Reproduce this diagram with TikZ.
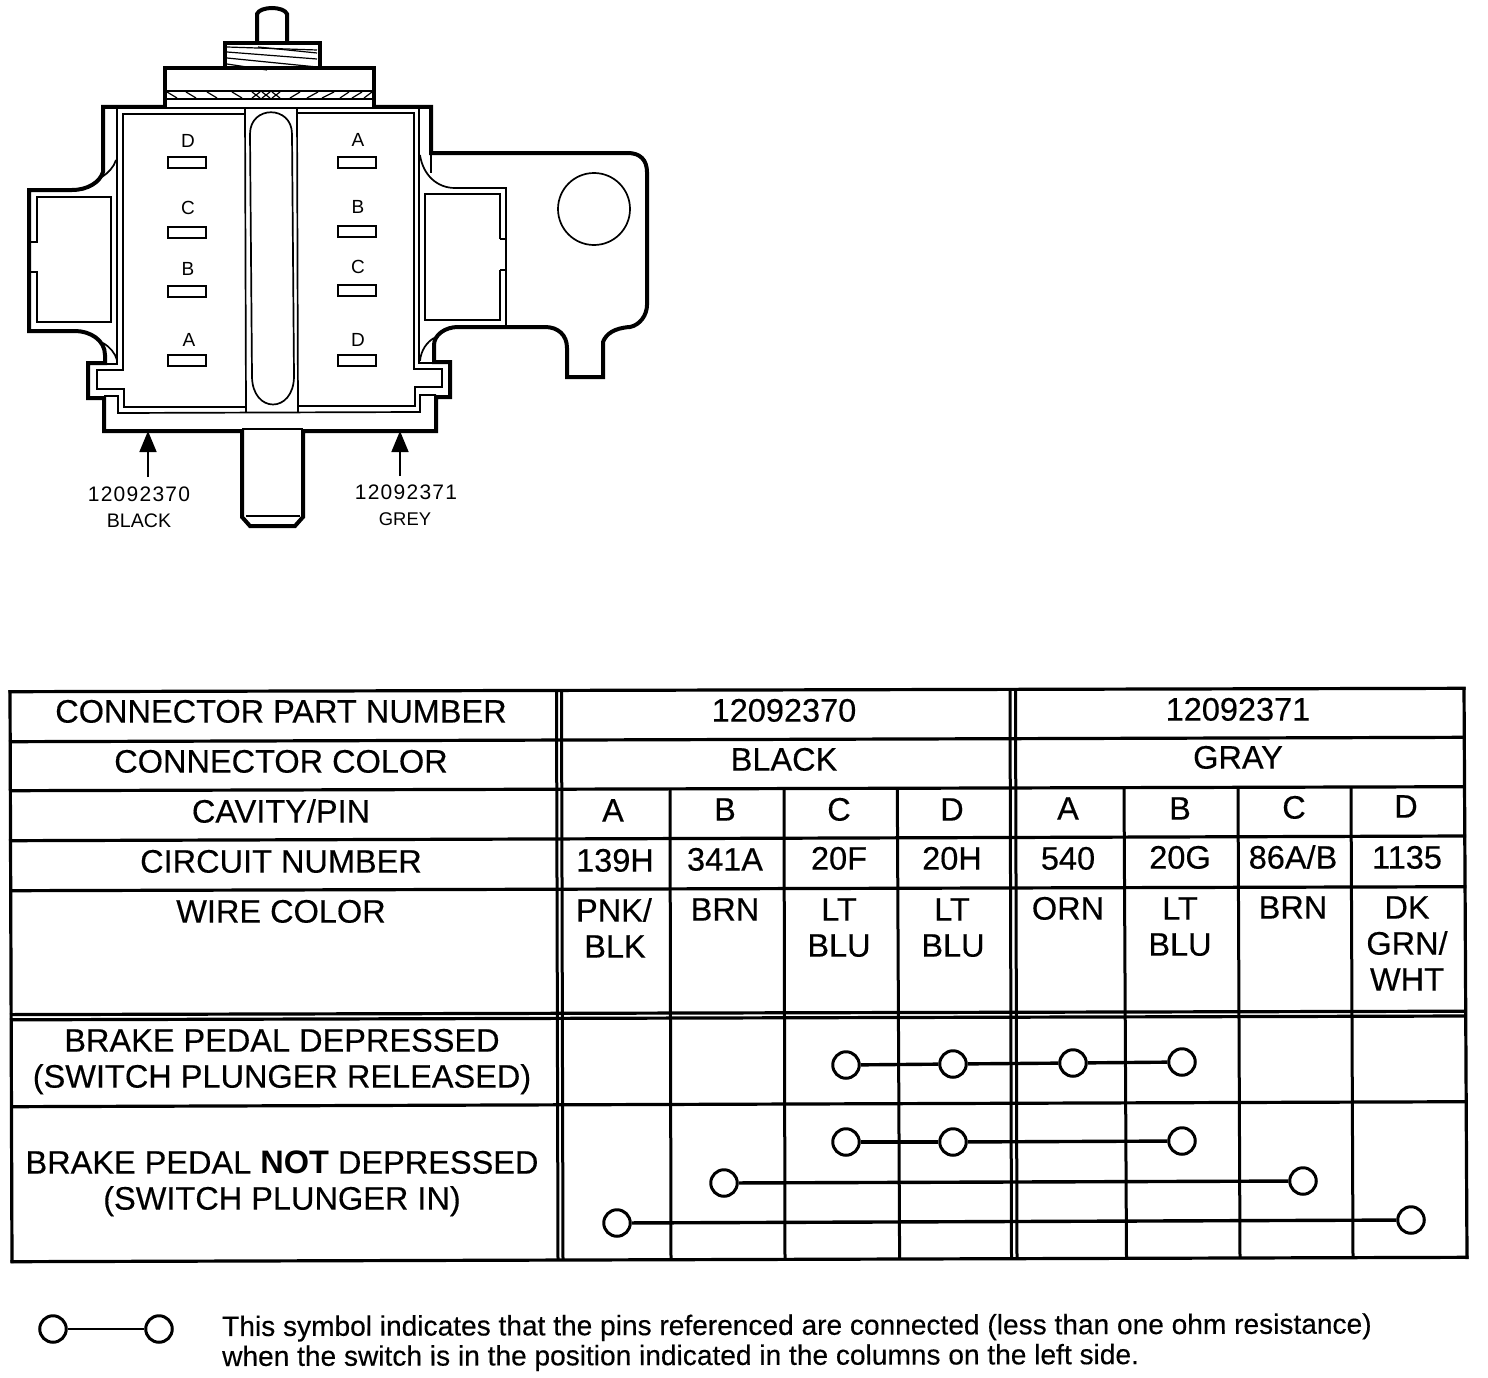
\documentclass[tikz,border=0pt]{standalone}
\usepackage{fontspec}
\setmainfont{Liberation Sans}
\newfontfamily\heavy[FakeBold=0.35]{Liberation Sans}
\newfontfamily\widedigits[LetterSpace=6]{Liberation Sans}
\usetikzlibrary{arrows.meta}
\tikzset{
  x=1pt,y=-1pt,
  thickln/.style={line width=4pt,line join=miter,line cap=butt},
  thinln/.style={line width=1.7pt,line join=miter},
  hair/.style={line width=1.2pt},
  gridln/.style={line width=3.2pt},
  colln/.style={line width=3pt},
  cell/.style={inner sep=0pt,anchor=base,font=\fontsize{32.5}{36}\selectfont\heavy},
  small/.style={inner sep=0pt,anchor=base,font=\fontsize{19}{22}\selectfont},
  partlabel/.style={inner sep=0pt,anchor=base,font=\fontsize{21}{24}\selectfont\widedigits},
  colourlabel/.style={inner sep=0pt,anchor=base,font=\fontsize{19.6}{24}\selectfont},
  greylabel/.style={inner sep=0pt,anchor=base,font=\fontsize{18.4}{24}\selectfont},
  legendtxt/.style={inner sep=0pt,anchor=base west,rotate=0.12,font=\fontsize{28.1}{32}\selectfont\heavy},
  pin/.style={circle,draw,fill=white,line width=3pt,minimum size=26.5pt,inner sep=0pt},
  link/.style={line width=3.4pt},
  pinbox/.style={draw,line width=2pt},
}
\newcommand\tcell[4]{\node[cell] (#1) at (#2,#3+11.6) {#4};}
\newcommand\pinlabel[4]{\node[small] (#1) at (#2,#3+6.8) {#4};}
\begin{document}
\begin{tikzpicture}
\useasboundingbox (0,0) rectangle (1488,1378);
\fill[white] (0,0) rectangle (1488,1378);

% --- switch: plunger top and threaded block
\draw[thickln] (257,41) -- (257,14) .. controls (260,6) and (284,6) .. (287,14) -- (287,41);
\draw[thickln] (225,68) -- (225,43) -- (320,43) -- (320,68);
\foreach \a/\b/\c/\d in {227/47/317/50, 227/52/317/59, 227/58/317/67, 227/64/267/70, 258/47/317/53}
  \draw[hair] (\a,\b) -- (\c,\d);
% cap
\draw[thickln] (165,107) -- (165,68) -- (374,68) -- (374,107);
\draw[thinln] (165,91) -- (374,91);
\draw[thinln] (165,99) -- (374,99);
\foreach \a/\b in {167/177,186/196,207/217,232/242,252/260,262/270,272/280}
  \draw[hair] (\a,92) -- (\b,98);
\foreach \a/\b in {260/252,270/262,280/272,300/290,318/307,334/322,349/340,362/352,372/364}
  \draw[hair] (\a,92) -- (\b,98);
\draw[thinln] (163,108) -- (376,108);

% --- body outline
\draw[thickln] (163,107) -- (103,107) -- (103,172)
  .. controls (100,182) and (88,190) .. (72,190) -- (29,190) -- (29,331) -- (75,331)
  .. controls (90,331) and (105,340) .. (105,355) -- (105,363) -- (88,363) -- (88,398)
  -- (104,398) -- (104,431) -- (242,431) -- (242,517) -- (250,526) -- (295,526)
  -- (303,517) -- (303,431) -- (436,431) -- (436,397) -- (450,397) -- (450,362)
  -- (434,362) -- (434,345) .. controls (434,335) and (445,327) .. (458,327) -- (545,327)
  .. controls (558,327) and (567,335) .. (567,348) -- (567,377) -- (603,377) -- (603,342)
  .. controls (606,334) and (614,328) .. (630,327) .. controls (640,325) and (647,315) .. (647,305)
  -- (647,172) .. controls (647,160) and (640,153) .. (628,153) -- (431,153) -- (431,107) -- (376,107);
\draw[hair] (242,429) -- (303,429);
\draw[hair] (246,516) -- (300,516);

% --- left tab
\draw[thinln] (31,242) -- (37,242) -- (37,197) -- (111,197) -- (111,322) -- (37,322) -- (37,272) -- (31,272);
% --- right tab
\draw[thinln] (500,239) -- (500,194) -- (425,194) -- (425,320) -- (500,320) -- (500,270);
\draw[thinln] (500,239) -- (506,239);
\draw[thinln] (500,270) -- (506,270);
\draw[thinln] (420,155) .. controls (423,175) and (437,188) .. (455,188) -- (506,188) -- (506,327);

% --- small corner arcs
\draw[thinln] (116,160) .. controls (114,167) and (108,173) .. (102,177);
\draw[thinln] (103,343) .. controls (110,347) and (115,353) .. (117,360);
\draw[thinln] (434,338) .. controls (427,342) and (421,350) .. (420,361);
\draw[thinln] (431,153) -- (431,173);

% --- chamber walls
\draw[thinln] (117,108) -- (117,364) -- (105,364);
\draw[thinln] (104,396) -- (118,396) -- (118,413) -- (420,412) -- (420,395) -- (436,395);
\draw[thinln] (419,108) -- (419,363) -- (434,363);
\draw[thinln] (245,114) -- (123,114) -- (123,370) -- (97,370) -- (97,389) -- (124,389) -- (124,407) -- (245,407);
\draw[thinln] (297,113) -- (414,113) -- (414,369) -- (442,369) -- (442,387) -- (415,387) -- (415,406) -- (297,406);
\draw[thinln] (245,108) -- (246,412);
\draw[thinln] (297,108) -- (298,412);
\draw[thinln] (250,134) .. controls (250,105) and (292,105) .. (292,134) -- (294,376)
  .. controls (294,414) and (252,414) .. (252,376) -- cycle;

% --- terminal slots and letters
\foreach \n/\y in {a/157,b/227,c/285.5,d/355}
  \draw[pinbox] (168,\y) rectangle ++(38,11);
\foreach \n/\y in {a/157,b/226,c/285,d/354.5}
  \draw[pinbox] (338,\y) rectangle ++(38,11);
\pinlabel{ld}{188}{141}{D}
\pinlabel{lc}{188}{208}{C}
\pinlabel{lb}{188}{269}{B}
\pinlabel{la}{189}{340}{A}
\pinlabel{ra}{358}{140}{A}
\pinlabel{rb}{358}{207}{B}
\pinlabel{rc}{358}{267}{C}
\pinlabel{rd}{358}{340}{D}
\draw[line width=1.7pt] (594,209) circle[radius=36];

% --- callouts
\node[partlabel] (partL) at (139,501.5) {12092370};
\node[colourlabel] (colL) at (139,527) {BLACK};
\node[partlabel] (partR) at (406,499.5) {12092371};
\node[greylabel] (colR) at (405,525) {GREY};
\coordinate (tipL) at (148,431);
\coordinate (tailL) at (148,477);
\coordinate (tipR) at (400,431);
\coordinate (tailR) at (400,476);
\draw[line width=1.6pt,-{Triangle[length=21pt,width=17pt]}] (tailL) -- (tipL);
\draw[line width=1.6pt,-{Triangle[length=21pt,width=17pt]}] (tailR) -- (tipR);

% --- table: horizontal rules (left x, left y, right x, right y)
\foreach \xa/\l/\xb/\r in {8.5/691.7/1465.5/688.3,9/741.7/1465.7/737.3,9/790.7/1465.9/786.7,9/840.7/1466.1/836,9.5/890.7/1466.3/886.7,10/1014.6/1466.8/1011.2,10/1019.8/1466.8/1016,10.5/1106.7/1467/1101.7,10.5/1261.7/1468.5/1257.3}
  \draw[gridln] (\xa,\l) -- (\xb,\r);
% table: outer and double rules
\draw[gridln] (10,690) -- (12,1263);
\draw[gridln] (1464,687) -- (1467,1259);
\foreach \t/\b/\u/\v in {556.5/558/690.4/1260.2,561.5/563/690.4/1260.2,1010/1011.5/689/1258.7,1015.5/1017/689/1258.7}
  \draw[colln] (\t,\u) -- (\b,\v);
% table: column rules
\foreach \t/\b/\u/\v in {670/671/789/1259.7,784/785/788.6/1259.4,897.3/899.6/788.3/1259,1124/1126.5/787.6/1258.3,1238/1240/787.3/1258,1351/1353/787/1257.6}
  \draw[colln] (\t,\u) -- (\b,\v);

% --- table text
\tcell{h1}{281}{711}{CONNECTOR PART NUMBER}
\tcell{h2}{281}{761}{CONNECTOR COLOR}
\tcell{h3}{281}{811}{CAVITY/PIN}
\tcell{h4}{281}{861}{CIRCUIT NUMBER}
\tcell{h5}{281}{911}{WIRE COLOR}
\tcell{h6a}{282}{1040}{BRAKE PEDAL DEPRESSED}
\tcell{h6b}{282}{1076}{(SWITCH PLUNGER RELEASED)}
\tcell{h7a}{282}{1162}{BRAKE PEDAL {\normalfont\bfseries NOT} DEPRESSED}
\tcell{h7b}{282}{1198}{(SWITCH PLUNGER IN)}
\tcell{pnA}{784}{710}{12092370}
\tcell{pnB}{1238}{709}{12092371}
\tcell{ccA}{784}{759}{BLACK}
\tcell{ccB}{1238}{757}{GRAY}
\tcell{c1}{613}{810}{A}
\tcell{c2}{725}{809}{B}
\tcell{c3}{839}{809}{C}
\tcell{c4}{952}{809}{D}
\tcell{c5}{1068}{808}{A}
\tcell{c6}{1180}{808}{B}
\tcell{c7}{1294}{807}{C}
\tcell{c8}{1406}{806}{D}
\tcell{n1}{615}{860}{139H}
\tcell{n2}{725}{859}{341A}
\tcell{n3}{839}{858}{20F}
\tcell{n4}{952}{858}{20H}
\tcell{n5}{1068}{858}{540}
\tcell{n6}{1180}{857}{20G}
\tcell{n7}{1293}{857}{86A/B}
\tcell{n8}{1407}{857}{1135}
\tcell{w1a}{614}{910}{PNK/}
\tcell{w1b}{615}{946}{BLK}
\tcell{w2}{725}{909}{BRN}
\tcell{w3a}{839}{909}{LT}
\tcell{w3b}{839}{945}{BLU}
\tcell{w4a}{952}{909}{LT}
\tcell{w4b}{953}{945}{BLU}
\tcell{w5}{1068}{908}{ORN}
\tcell{w6a}{1180}{908}{LT}
\tcell{w6b}{1180}{944}{BLU}
\tcell{w7}{1293}{907}{BRN}
\tcell{w8a}{1407}{907}{DK}
\tcell{w8b}{1407}{943}{GRN/}
\tcell{w8c}{1407}{979}{WHT}

% --- continuity symbols
\node[pin] (a1) at (846,1065) {};
\node[pin] (a2) at (953,1064) {};
\node[pin] (a3) at (1073,1063) {};
\node[pin] (a4) at (1182,1062) {};
\draw[link] (a1) -- (a2);
\draw[link] (a2) -- (a3);
\draw[link] (a3) -- (a4);
\node[pin] (b1) at (846,1142) {};
\node[pin] (b2) at (953,1142) {};
\node[pin] (b3) at (1182,1141) {};
\draw[link] (b1) -- (b2);
\draw[link] (b2) -- (b3);
\node[pin] (c1p) at (724,1183) {};
\node[pin] (c2p) at (1303,1181) {};
\draw[link] (c1p) -- (c2p);
\node[pin] (d1p) at (617,1223) {};
\node[pin] (d2p) at (1411,1220) {};
\draw[link] (d1p) -- (d2p);

% --- legend
\node[pin] (k1) at (53,1329) {};
\node[pin] (k2) at (159,1329) {};
\draw[line width=2.4pt] (k1) -- (k2);
\node[legendtxt] (t1) at (222,1336) {This symbol indicates that the pins referenced are connected (less than one ohm resistance)};
\node[legendtxt] (t2) at (222,1366) {when the switch is in the position indicated in the columns on the left side.};
\end{tikzpicture}
\end{document}
